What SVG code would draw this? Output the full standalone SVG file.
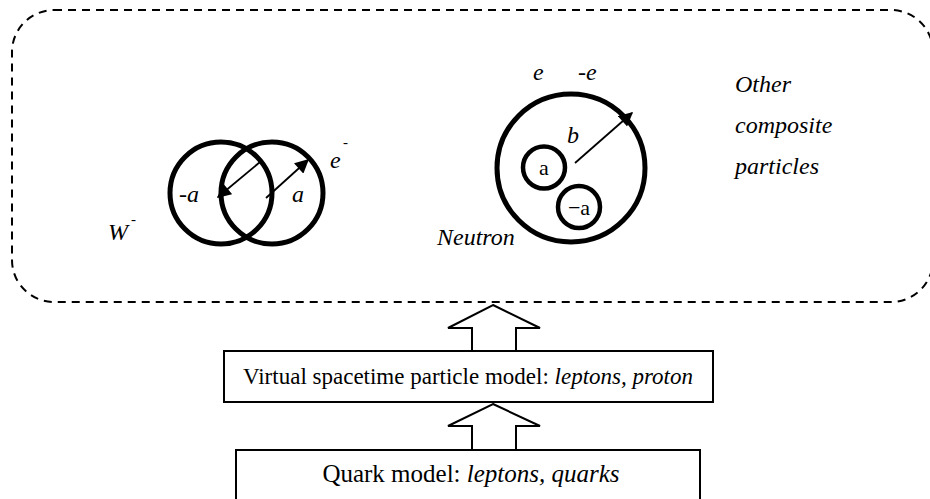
<svg xmlns="http://www.w3.org/2000/svg" width="930" height="499" viewBox="0 0 930 499">
<style>
text{font-family:"Liberation Serif","Times New Roman",serif;fill:#000}
.it{font-style:italic;font-size:24px}
.sup{font-style:italic;font-size:15px}
.in{font-size:22px}
.ring{fill:none;stroke:#000;stroke-width:5}
.sm{fill:none;stroke:#000;stroke-width:4.5}
.ln{stroke:#000;stroke-width:1.8;fill:none}
.blk{fill:#fff;stroke:#000;stroke-width:2}
</style>
<defs>
<marker id="ahb" viewBox="0 0 10 10" refX="9" refY="5" markerWidth="15" markerHeight="14" markerUnits="userSpaceOnUse" orient="auto">
<path d="M0,0 L10,5 L0,10 Z" fill="#000"/>
</marker>
</defs>
<g id="frame">
<rect x="12" y="10" width="921" height="292" rx="42" ry="42" fill="none" stroke="#000" stroke-width="2" stroke-dasharray="8,6"/>
</g>
<g id="wminus">
<circle class="ring" cx="221" cy="193" r="51"/>
<circle class="ring" cx="272" cy="193" r="51"/>
<text class="it" x="179" y="202">-a</text>
<text class="it" x="292" y="202">a</text>
<text class="it" x="330" y="168">e</text>
<text class="sup" x="343" y="147">-</text>
<text class="it" x="108" y="240">W</text>
<text class="sup" x="131" y="224">-</text>
</g>
<g id="neutron">
<circle class="ring" cx="571" cy="168" r="74"/>
<circle class="sm" cx="544" cy="167.5" r="21"/>
<circle class="sm" cx="579" cy="207" r="21"/>
<text class="in" x="544" y="175" text-anchor="middle">a</text>
<text class="in" x="579" y="214.5" text-anchor="middle">−a</text>
<text class="it" x="567" y="143">b</text>
<text class="it" x="437" y="245">Neutron</text>
<text class="it" x="533" y="80">e</text>
<text class="it" x="578" y="80">-e</text>
</g>
<g id="other">
<text class="it" x="735" y="92">Other</text>
<text class="it" x="735" y="133">composite</text>
<text class="it" x="735" y="174">particles</text>
</g>
<g id="box-virtual">
<rect class="blk" x="224" y="351" width="489" height="51"/>
<text x="468" y="384" font-size="23" text-anchor="middle">Virtual spacetime particle model: <tspan font-style="italic">leptons, proton</tspan></text>
</g>
<g id="box-quark">
<rect class="blk" x="236" y="450" width="464" height="60"/>
<text x="471" y="482" font-size="25" text-anchor="middle">Quark model: <tspan font-style="italic">leptons, quarks</tspan></text>
</g>
<g id="connectors">
<line class="ln" x1="260" y1="162" x2="218" y2="197" marker-end="url(#ahb)"/>
<line class="ln" x1="266" y1="198" x2="308" y2="160" marker-end="url(#ahb)"/>
<line class="ln" x1="575" y1="163" x2="632" y2="113" marker-end="url(#ahb)"/>
<path class="blk" d="M493,305 L540,328 L516,328 L516,351 L472,351 L472,328 L448,328 Z"/>
<path class="blk" d="M493,404 L540,426 L516,426 L516,450 L472,450 L472,426 L448,426 Z"/>
</g>
</svg>
